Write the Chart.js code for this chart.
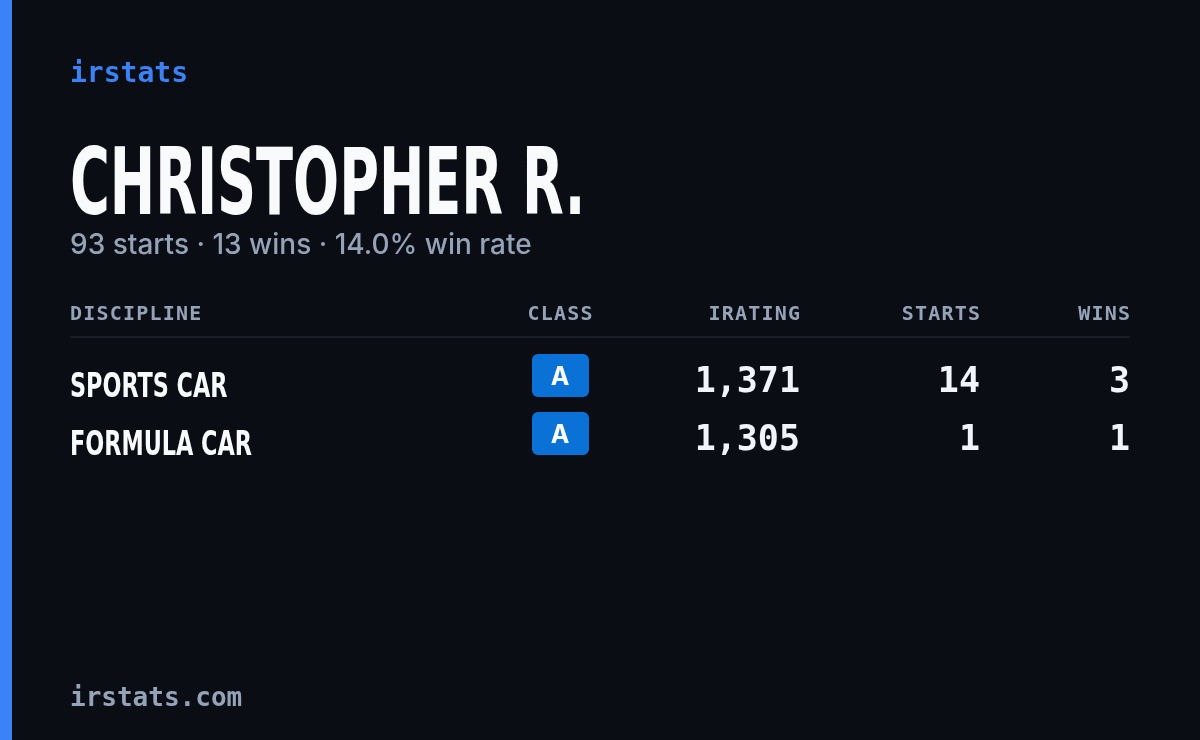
<!DOCTYPE html>
<html><head><meta charset="utf-8">
<script src="https://cdn.jsdelivr.net/npm/chart.js@4.4.1/dist/chart.umd.min.js"></script>
<style>
html,body{margin:0;padding:0;background:#0a0d14;}
#wrap{position:relative;width:1200px;height:740px;overflow:hidden;}
#bar{position:absolute;left:0;top:0;width:12px;height:740px;background:#3b82f6;}
canvas{position:absolute;left:0;top:0;}
</style></head>
<body>
<div id="wrap"><div id="bar"></div><canvas id="c" width="1200" height="740"></canvas></div>
<script>
/* ---------------- 데이터 ---------------- */
const brand = "irstats";
const playerName = "CHRISTOPHER R.";
const summary = "93 starts · 13 wins · 14.0% win rate";
const footer = "irstats.com";
const columns = ["DISCIPLINE","CLASS","IRATING","STARTS","WINS"];
const disciplines = ["SPORTS CAR","FORMULA CAR"];
const classes = ["A","A"];
const iratings = [1371,1305];
const starts = [14,1];
const wins = [3,1];

/* ---------------- 레이아웃 ---------------- */
const colX = [70,560,800,980,1130];
const colAlign = ["left","center","right","right","right"];
const rowY = [378,436];
const condensed = '"DejaVu Sans Condensed","Liberation Sans Narrow",sans-serif';
const mono = '"DejaVu Sans Mono","Liberation Mono",monospace';

function spaced(ctx,text,x,y,sp,align){
    let w=0; for(const ch of text) w+=ctx.measureText(ch).width+sp; w-=sp;
    let sx = align==="right"? x-w : align==="center"? x-w/2 : x;
    ctx.textAlign="left";
    for(const ch of text){ ctx.fillText(ch,sx,y); sx+=ctx.measureText(ch).width+sp; }
}

const cardPlugin={
    id:"card",
    afterDraw(chart){
        const ctx=chart.ctx, xs=chart.scales.x, ys=chart.scales.y;
        const X=v=>xs.getPixelForValue(v), Y=v=>ys.getPixelForValue(v);
        ctx.save();
        ctx.textBaseline="alphabetic";
        ctx.fillStyle="#3b82f6"; ctx.font="bold 28px "+mono; ctx.textAlign="left";
        ctx.fillText(brand,X(70),Y(82));
        ctx.fillStyle="#f8fafc"; ctx.font="bold 92px "+condensed;
        ctx.save(); ctx.translate(X(70),Y(214)); ctx.scale(0.655,1); ctx.fillText(playerName,0,0); ctx.restore();
        ctx.fillStyle="#94a3b8"; ctx.font="500 28px Inter, Roboto, sans-serif";
        ctx.fillText(summary,X(70),Y(254));
        // header
        ctx.font="bold 20px "+mono; ctx.fillStyle="#94a3b8";
        columns.forEach((c,i)=>spaced(ctx,c,X(colX[i]),Y(320),1.2,colAlign[i]));
        ctx.strokeStyle="#1c2230"; ctx.lineWidth=1.5;
        ctx.beginPath(); ctx.moveTo(X(70),Y(337)); ctx.lineTo(X(1130),Y(337)); ctx.stroke();
        // rows
        disciplines.forEach((d,i)=>{
            const y=rowY[i];
            ctx.fillStyle="#f8fafc"; ctx.font="bold 34px "+condensed; ctx.textAlign="left";
            ctx.save(); ctx.translate(X(70),Y(y+19)); ctx.scale(0.73,1); ctx.fillText(d,0,0); ctx.restore();
            ctx.fillStyle="#0a72d6";
            ctx.beginPath(); ctx.roundRect(X(532),Y(y-24),57,43,6); ctx.fill();
            ctx.fillStyle="#ffffff"; ctx.font="bold 25px Inter, Roboto, sans-serif"; ctx.textAlign="center";
            ctx.fillText(classes[i],X(560),Y(y+7));
            ctx.fillStyle="#f1f5f9"; ctx.font="bold 35px "+mono; ctx.textAlign="right";
            ctx.fillText(iratings[i].toLocaleString("en-US"),X(800),Y(y+14));
            ctx.fillText(String(starts[i]),X(980),Y(y+14));
            ctx.fillText(String(wins[i]),X(1130),Y(y+14));
        });
        ctx.fillStyle="#94a3b8"; ctx.font="bold 26px "+mono; ctx.textAlign="left";
        ctx.fillText(footer,X(70),Y(706));
        ctx.restore();
    }
};

new Chart(document.getElementById("c"),{
    type:"scatter",
    data:{datasets:[]},
    options:{
        responsive:false, animation:false,
        layout:{padding:0},
        plugins:{legend:{display:false},tooltip:{enabled:false}},
        scales:{
            x:{type:"linear",min:0,max:1200,display:false},
            y:{type:"linear",min:0,max:740,reverse:true,display:false}
        }
    },
    plugins:[cardPlugin]
});
</script>
</body></html>
